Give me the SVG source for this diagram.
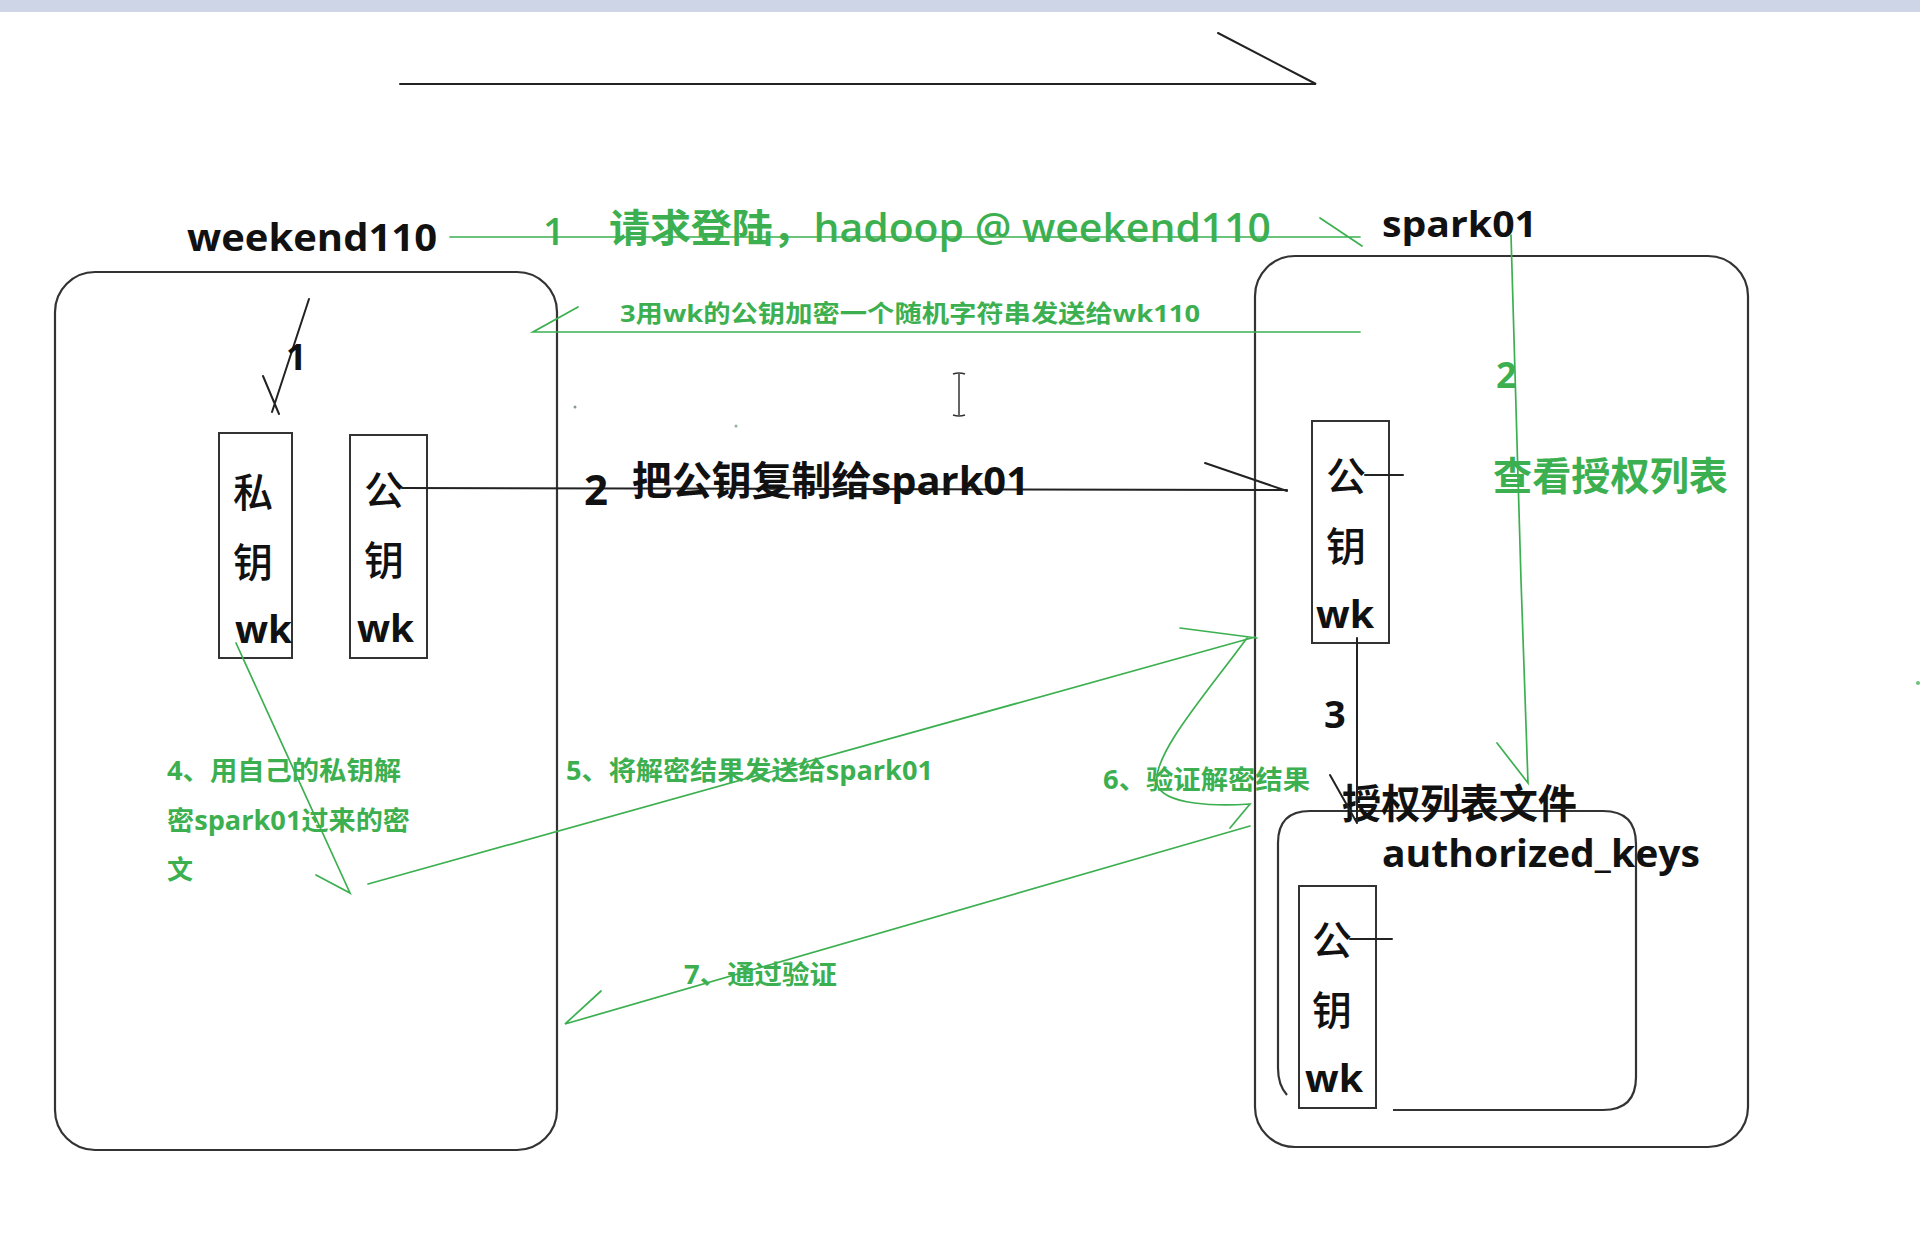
<svg xmlns="http://www.w3.org/2000/svg" width="1920" height="1242" viewBox="0 0 1920 1242">
<style>
.box{fill:none;stroke:#333;stroke-width:2.2}
.kbox{fill:none;stroke:#333;stroke-width:2}
.blk{fill:none;stroke:#222;stroke-width:2;stroke-linecap:round}
.grn{fill:none;stroke:#3cb050;stroke-width:1.7;stroke-linecap:round}
.t{font-family:"Open Sans","Noto Sans CJK SC",sans-serif}
.c{font-family:"Noto Sans CJK SC",sans-serif;font-weight:500;fill:#111;font-size:40px}
.cb{font-family:"Noto Sans CJK SC",sans-serif;font-weight:bold;fill:#111;font-size:40px}
.wk{font-family:"Open Sans","Noto Sans CJK SC",sans-serif;font-weight:bold;fill:#111;font-size:38px}
.tb{fill:#111;font-weight:bold}
.tg{fill:#3cb050}
.tm{font-weight:600}
</style>
<rect x="0" y="0" width="1920" height="1242" fill="#ffffff"/>
<rect x="0" y="0" width="1920" height="12" fill="#cdd5e6"/>

<g id="weekend110">
  <rect class="box" x="55" y="272" width="502" height="878" rx="40"/>
  <text class="t tb" x="187" y="251" font-size="38" textLength="250" lengthAdjust="spacingAndGlyphs">weekend110</text>
</g>
<g id="private-key-wk">
  <rect class="kbox" x="219" y="433" width="73" height="225"/>
  <text class="c" x="233" y="507">私</text>
  <text class="c" x="233" y="577">钥</text>
  <text class="wk" x="235" y="643" textLength="57" lengthAdjust="spacingAndGlyphs">wk</text>
</g>
<g id="public-key-wk">
  <rect class="kbox" x="350" y="435" width="77" height="223"/>
  <text class="c" x="364" y="505">公</text>
  <text class="c" x="364" y="575">钥</text>
  <text class="wk" x="357" y="642" textLength="57" lengthAdjust="spacingAndGlyphs">wk</text>
</g>
<g id="spark01">
  <rect class="box" x="1255" y="256" width="493" height="891" rx="40"/>
  <text class="t tb" x="1382" y="237" font-size="36" textLength="155" lengthAdjust="spacingAndGlyphs">spark01</text>
</g>
<g id="spark01-public-key-wk">
  <rect class="kbox" x="1312" y="421" width="77" height="222"/>
  <text class="c" x="1326" y="491">公</text>
  <text class="c" x="1326" y="561">钥</text>
  <text class="wk" x="1316" y="628" textLength="58" lengthAdjust="spacingAndGlyphs">wk</text>
</g>
<g id="authorized-keys">
  <path class="box" d="M1287,1095 Q1278,1085 1278,1068 L1278,843 Q1278,811 1310,811 L1603,811 Q1636,811 1636,844 L1636,1077 Q1636,1110 1603,1110 L1393,1110"/>
  <text class="cb" x="1342" y="818" textLength="235" lengthAdjust="spacingAndGlyphs">授权列表文件</text>
  <text class="t tb" x="1382" y="867" font-size="37" textLength="318" lengthAdjust="spacingAndGlyphs">authorized_keys</text>
</g>
<g id="authorized-key-wk">
  <rect class="kbox" x="1299" y="886" width="77" height="222"/>
  <text class="c" x="1312" y="955">公</text>
  <text class="c" x="1312" y="1025">钥</text>
  <text class="wk" x="1305" y="1092" textLength="58" lengthAdjust="spacingAndGlyphs">wk</text>
</g>

<g id="connectors">
  <path class="blk" stroke-width="2.6" d="M400,84 L1316,84 L1218,33"/>
  <path class="grn" d="M450,237 L1360,237 M1320,218 L1362,246"/>
  <path class="grn" d="M1360,332 L533,332 L578,307"/>
  <path class="grn" d="M1511,235 L1521,580 L1528,783 L1497,743"/>
  <path class="blk" stroke-width="1.6" d="M309,299 L272,412 M263,376 L279,414"/>
  <path class="blk" d="M402,488 L1287,490 M1205,463 L1287,491"/>
  <path class="blk" stroke-width="1.6" d="M1365,475 L1403,475"/>
  <path class="blk" d="M1357,638 L1357,822 M1330,775 L1357,823"/>
  <path class="blk" stroke-width="1.6" d="M1350,939 L1392,939"/>
  <path class="grn" d="M236,643 L350,893 L316,875"/>
  <path class="grn" d="M368,884 L1255,637 M1180,628 L1257,638"/>
  <path class="grn" d="M1247,638 C1205,695 1152,755 1157,784 C1163,806 1220,806 1250,804 L1230,828"/>
  <path class="grn" d="M1250,826 L565,1024 L601,991"/>
</g>

<g id="labels">
  <text class="t tg tm" x="543" y="245" font-size="38">1</text>
  <text class="t tg tm" x="609" y="242" font-size="39" textLength="662" lengthAdjust="spacingAndGlyphs">请求登陆，hadoop @ weekend110</text>
  <text class="t tg" x="620" y="322" font-size="24" font-weight="bold" textLength="580" lengthAdjust="spacingAndGlyphs">3用wk的公钥加密一个随机字符串发送给wk110</text>
  <text class="t tb" x="286" y="370" font-size="36">1</text>
  <text class="t tb" x="584" y="505" font-size="42">2</text>
  <text class="t tb" x="632" y="495" font-size="40" textLength="397" lengthAdjust="spacingAndGlyphs">把公钥复制给spark01</text>
  <text class="t tg" x="1496" y="388" font-size="36" font-weight="bold">2</text>
  <text class="t tg tm" x="1493" y="490" font-size="39" textLength="235" lengthAdjust="spacingAndGlyphs">查看授权列表</text>
  <text class="t tb" x="1324" y="728" font-size="38">3</text>
  <text class="t tg" x="167" y="780" font-size="26" font-weight="bold" textLength="234" lengthAdjust="spacingAndGlyphs">4、用自己的私钥解</text>
  <text class="t tg" x="167" y="830" font-size="26" font-weight="bold" textLength="243" lengthAdjust="spacingAndGlyphs">密spark01过来的密</text>
  <text class="t tg" x="167" y="879" font-size="26" font-weight="bold">文</text>
  <text class="t tg" x="566" y="780" font-size="26" font-weight="bold" textLength="367" lengthAdjust="spacingAndGlyphs">5、将解密结果发送给spark01</text>
  <text class="t tg" x="1103" y="789" font-size="26" font-weight="bold" textLength="207" lengthAdjust="spacingAndGlyphs">6、验证解密结果</text>
  <text class="t tg" x="684" y="984" font-size="26" font-weight="bold" textLength="153" lengthAdjust="spacingAndGlyphs">7、通过验证</text>
</g>

<g id="cursor">
  <path fill="none" stroke="#333" stroke-width="1.5" d="M953,374 Q959,372 965,374 M959,374 L959,415 M953,415 Q959,417 965,415"/>
</g>
<g id="specks">
  <circle cx="575" cy="407" r="1.5" fill="#8a9a8a"/>
  <circle cx="736" cy="426" r="1.5" fill="#8fb59a"/>
  <circle cx="1918" cy="683" r="2" fill="#6fbf7f"/>
</g>
</svg>
